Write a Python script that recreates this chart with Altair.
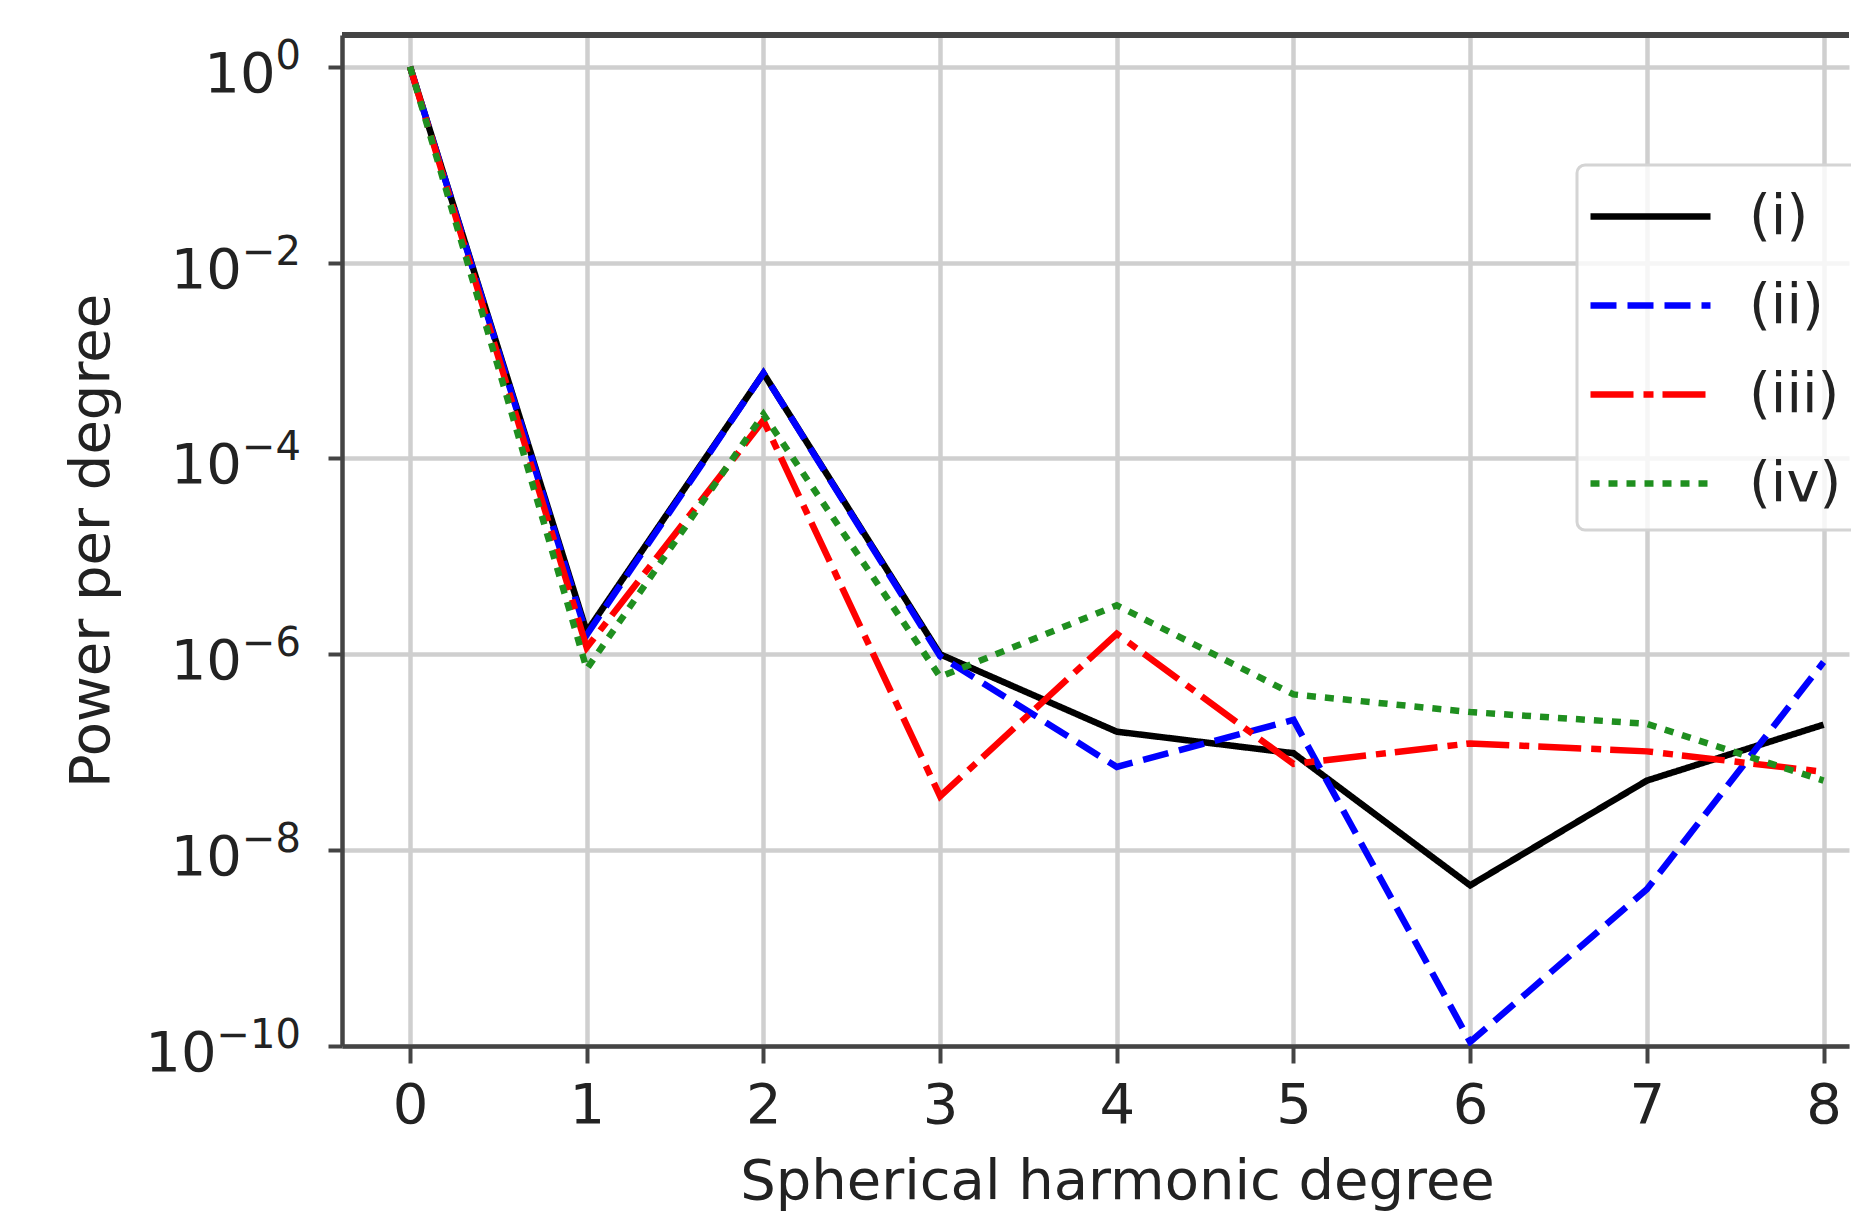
import altair as alt
import pandas as pd

# ---------------- data ----------------
degrees = [0, 1, 2, 3, 4, 5, 6, 7, 8]
series_names = ["(i)", "(ii)", "(iii)", "(iv)"]
series_colors = ["#000000", "#0000ff", "#ff0000", "#1f8f1f"]

power_i = [1.0, 1.70e-6, 7.41e-4, 1.00e-6, 1.62e-7, 9.77e-8, 4.37e-9, 5.13e-8, 1.91e-7]
power_ii = [1.0, 1.58e-6, 7.41e-4, 9.55e-7, 7.08e-8, 2.14e-7, 1.10e-10, 3.98e-9, 8.32e-7]
power_iii = [1.0, 1.17e-6, 2.45e-4, 3.55e-8, 1.62e-6, 7.59e-8, 1.23e-7, 1.02e-7, 6.31e-8]
power_iv = [1.0, 7.08e-7, 2.82e-4, 5.89e-7, 3.16e-6, 3.89e-7, 2.57e-7, 1.95e-7, 5.13e-8]

ytick_values = [1e0, 1e-2, 1e-4, 1e-6, 1e-8, 1e-10]
ytick_exponents = ["0", "\u22122", "\u22124", "\u22126", "\u22128", "\u221210"]

x_title = "Spherical harmonic degree"
y_title = "Power per degree"

# ---------------- tables ----------------
rows = []
for name, vals in zip(series_names, [power_i, power_ii, power_iii, power_iv]):
    for d, v in zip(degrees, vals):
        rows.append({"degree": d, "power": v, "series": name})
df = pd.DataFrame(rows)

ylab = pd.DataFrame({"power": ytick_values, "exp": ytick_exponents, "base": ["10"] * len(ytick_values)})

# ---------------- layout / style ----------------
W, H = 1507, 1011
FONT = "DejaVu Sans"
TXT = "#222222"
SPINE = "#444444"
GRID = "#cfcfcf"

xscale = alt.Scale(domain=[-0.385, 8.144], nice=False, zero=False)
yscale = alt.Scale(type="log", domain=[1e-10, 2.107], nice=False)

y_axis = alt.Axis(
    values=ytick_values, labels=False, title=y_title, grid=True, gridColor=GRID, gridWidth=4.5,
    domainColor=SPINE, domainWidth=4.5, tickColor=SPINE, tickWidth=4, tickSize=14,
    titleFont=FONT, titleFontSize=56, titleFontWeight="normal", titleColor=TXT,
    titleX=-234, titleY=505.5, titleBaseline="alphabetic", titleAlign="center", titleAngle=270,
)

dash_range = [[1, 0], [26, 11], [43, 10, 10, 9], [9, 9]]

def make_legend():
    return alt.Legend(
        title=None, orient="none", legendX=1235, legendY=130, direction="vertical",
        symbolType="M-2,0H2", symbolSize=3600, symbolStrokeWidth=6.5, symbolOffset=22,
        labelFont=FONT, labelFontSize=56, labelColor=TXT, labelOffset=65,
        rowPadding=27, padding=18, fillColor="rgba(255,255,255,0.8)",
        strokeColor="#d4d4d4", cornerRadius=8,
    )

lines = alt.Chart(df).mark_line(strokeWidth=6.5, clip=True).encode(
    x=alt.X("degree:Q", scale=xscale, axis=alt.Axis(
        values=degrees, title=x_title, grid=True, gridColor=GRID, gridWidth=4.5,
        domainColor=SPINE, domainWidth=4.5, tickColor=SPINE, tickWidth=4, tickSize=17,
        labelFont=FONT, labelFontSize=56, labelColor=TXT, labelPadding=15,
        titleFont=FONT, titleFontSize=56, titleFontWeight="normal", titleColor=TXT,
        titleX=775, titleY=152, titleBaseline="alphabetic", titleAlign="center", titleAngle=0,
    )),
    y=alt.Y("power:Q", scale=yscale, axis=y_axis),
    color=alt.Color("series:N", scale=alt.Scale(domain=series_names, range=series_colors), legend=make_legend()),
    strokeDash=alt.StrokeDash("series:N", scale=alt.Scale(domain=series_names, range=dash_range), legend=make_legend()),
    detail="series:N",
)

top_frame = alt.Chart(df).mark_rule(color=SPINE, strokeWidth=4.5).encode(
    x=alt.value(0), x2=alt.value(W), y=alt.value(0)
)

exp_text = alt.Chart(ylab).mark_text(
    align="right", baseline="alphabetic", font=FONT, fontSize=40, color=TXT, dy=2
).encode(y=alt.Y("power:Q", scale=yscale, axis=y_axis), x=alt.value(-41), text="exp:N")

def base_layer(expr, xpos):
    return alt.Chart(ylab).transform_filter(expr).mark_text(
        align="right", baseline="alphabetic", font=FONT, fontSize=56, color=TXT, dy=25
    ).encode(y=alt.Y("power:Q", scale=yscale, axis=y_axis), x=alt.value(xpos), text="base:N")

base1 = base_layer("length(datum.exp) == 1", -66.4)
base2 = base_layer("length(datum.exp) == 2", -100)
base3 = base_layer("length(datum.exp) == 3", -125.4)

chart = alt.layer(lines, top_frame, exp_text, base1, base2, base3).properties(
    width=W, height=H,
    padding={"left": 342, "top": 35, "right": 2, "bottom": 167},
    autosize=alt.AutoSizeParams(type="none"),
    background="white",
).configure_view(stroke="transparent").configure_legend(strokeWidth=3)

chart.save("out.html", embed_options={"renderer": "svg", "actions": False})
